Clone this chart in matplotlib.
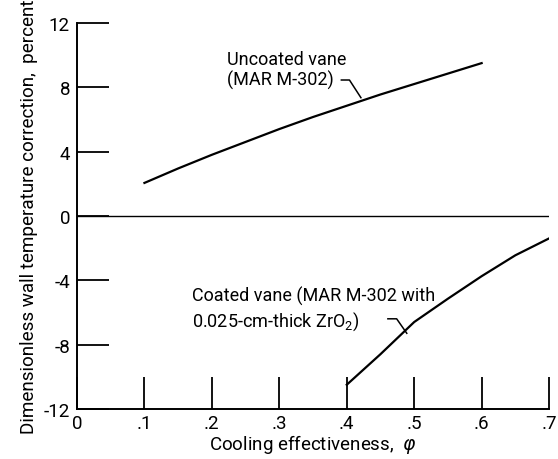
import matplotlib.pyplot as plt

# Cooling effectiveness vs wall temperature correction
x_uncoated = [0.10, 0.15, 0.20, 0.25, 0.30, 0.35, 0.40, 0.45, 0.50, 0.55, 0.60]
y_uncoated = [2.05, 2.95, 3.80, 4.60, 5.40, 6.15, 6.85, 7.55, 8.20, 8.85, 9.50]

x_coated = [0.40, 0.45, 0.50, 0.55, 0.60, 0.65, 0.70]
y_coated = [-10.5, -8.6, -6.6, -5.15, -3.75, -2.45, -1.4]

xticks = [0, 0.1, 0.2, 0.3, 0.4, 0.5, 0.6, 0.7]
xticklabels = ['0', '.1', '.2', '.3', '.4', '.5', '.6', '.7']
yticks = [-12, -8, -4, 0, 4, 8, 12]
yticklabels = ['-12', '-8', '-4', '0', '4', '8', '12']

plt.rcParams['font.family'] = ['Roboto', 'DejaVu Sans']
plt.rcParams['mathtext.fontset'] = 'custom'
plt.rcParams['mathtext.rm'] = 'Roboto'
plt.rcParams['mathtext.it'] = 'DejaVu Sans:italic'
fs = 13

fig = plt.figure(figsize=(5.58, 4.6), dpi=100)
ax = fig.add_axes([0.138, 0.109, 0.846, 0.839])

ax.plot(x_uncoated, y_uncoated, color='black', lw=1.6)
ax.plot(x_coated, y_coated, color='black', lw=1.6)
ax.axhline(0, color='black', lw=1.0)

ax.set_xlim(0, 0.7)
ax.set_ylim(-12, 12)
ax.set_xticks(xticks)
ax.set_xticklabels(xticklabels)
ax.set_yticks(yticks)
ax.set_yticklabels(yticklabels)
ax.tick_params(direction='in', length=23, width=1.3, labelsize=13.5, pad=5)
ax.tick_params(axis='x', pad=4)
ax.spines['top'].set_visible(False)
ax.spines['right'].set_visible(False)
ax.spines['left'].set_linewidth(1.4)
ax.spines['bottom'].set_linewidth(1.4)

ax.set_xlabel(r'Cooling effectiveness,  $\varphi$', fontsize=13.5, labelpad=0)
ax.set_ylabel('Dimensionless wall temperature correction,  percent', fontsize=13.6, labelpad=4)

# curve labels with small leader hooks
ax.text(0.222, 9.76, 'Uncoated vane', ha='left', va='center', fontsize=fs)
ax.text(0.222, 8.5, '(MAR M-302)', ha='left', va='center', fontsize=fs)
ax.plot([0.392, 0.404, 0.421], [8.45, 8.45, 7.35], color='black', lw=1.1)

ax.text(0.170, -4.95, 'Coated vane (MAR M-302 with', ha='left', va='center', fontsize=fs)
ax.text(0.170, -6.5, r'0.025-cm-thick ZrO$_2$)', ha='left', va='center', fontsize=fs)
ax.plot([0.461, 0.474, 0.489], [-6.4, -6.4, -7.3], color='black', lw=1.1)

fig.savefig('out.png', dpi=100)
